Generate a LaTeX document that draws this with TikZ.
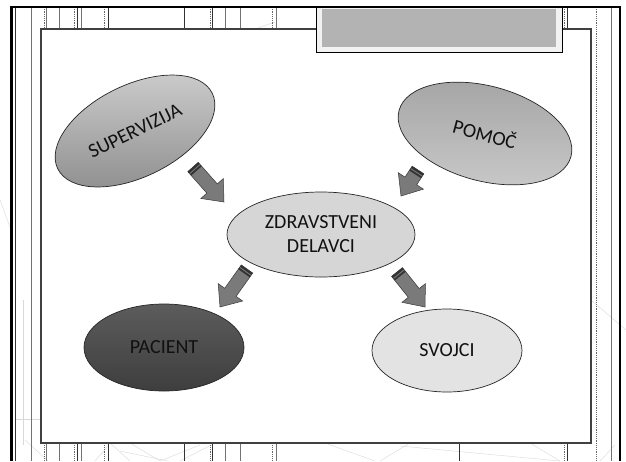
\documentclass[tikz,border=0pt]{standalone}
\usepackage{fontspec}
\setmainfont{Carlito}
\usetikzlibrary{shapes.geometric,calc}
\definecolor{framegray}{HTML}{404040}
\definecolor{boxgray}{HTML}{B3B3B3}
\definecolor{boxrim}{HTML}{F2F2F2}
\definecolor{arrfill}{HTML}{7A7A7A}
\definecolor{arrline}{HTML}{3A3A3A}
\definecolor{txt}{HTML}{111111}
\definecolor{suptop}{HTML}{CDCDCD}
\definecolor{supbot}{HTML}{8E8E8E}
\definecolor{pomtop}{HTML}{A4A4A4}
\definecolor{pombot}{HTML}{C6C6C6}
\definecolor{pactop}{HTML}{5C5C5C}
\definecolor{pacbot}{HTML}{3E3E3E}
\tikzset{
  vsolid/.style={draw=black!80, line width=0.7pt},
  vthin/.style={draw=black!55, line width=0.5pt},
  vdash/.style={draw=black!60, line width=0.6pt, dash pattern=on 1.2pt off 1pt},
  faint/.style={draw=black!15, line width=0.4pt},
  bubble/.style={ellipse, draw=black!85, line width=0.7pt, inner sep=0pt, text=txt,
     font=\fontsize{20}{24}\selectfont, align=center},
  arrowbody/.style={fill=arrfill, draw=arrline, line width=0.5pt, line join=miter},
  stripe/.style={fill=black!80},
}
\newcommand{\blockarrow}[1]{%
  \coordinate (#1h) at ($(#1t)!18pt!(#1s)$);
  \coordinate (#1p) at ($(#1s)!2.2pt!(#1t)$);
  \coordinate (#1q) at ($(#1s)!3.4pt!(#1t)$);
  \coordinate (#1r) at ($(#1s)!5.2pt!(#1t)$);
  \filldraw[arrowbody] ($(#1s)!7pt!90:(#1t)$) -- ($(#1h)!7pt!90:(#1t)$) -- ($(#1h)!15pt!90:(#1t)$) -- (#1t)
     -- ($(#1h)!15pt!-90:(#1t)$) -- ($(#1h)!7pt!-90:(#1t)$) -- ($(#1s)!7pt!-90:(#1t)$) -- cycle;
  \fill[stripe] ($(#1s)!7pt!90:(#1t)$) -- ($(#1p)!7pt!90:(#1t)$) -- ($(#1p)!7pt!-90:(#1t)$) -- ($(#1s)!7pt!-90:(#1t)$) -- cycle;
  \fill[stripe] ($(#1q)!7pt!90:(#1t)$) -- ($(#1r)!7pt!90:(#1t)$) -- ($(#1r)!7pt!-90:(#1t)$) -- ($(#1q)!7pt!-90:(#1t)$) -- cycle;
}
\begin{document}
\begin{tikzpicture}[x=1pt,y=-1pt]
\useasboundingbox[fill=white] (0,0) rectangle (626,461);
% faint background lines
\draw[faint] (23,300) -- (23,445);
\draw[faint] (15,419) -- (41,419);
\draw[faint] (25,440) -- (48,461);
\draw[faint] (110,443) -- (130,461);
\draw[faint] (95,461) -- (108,446);
\draw[faint] (120,451) -- (168,461);
\draw[faint] (160,461) -- (200,445);
\draw[faint] (130,443) -- (160,461);
\draw[faint] (180,461) -- (215,443);
\draw[faint] (325,443) -- (375,461);
\draw[faint] (380,461) -- (410,443);
\draw[faint] (400,446) -- (560,461);
\draw[faint] (530,443) -- (560,461);
\draw[faint] (600,461) -- (615,445);
\draw[faint] (591,300) -- (626,330);
\draw[faint] (0,200) -- (11,230);
\draw[faint] (258,28) -- (275,22);
% vertical background lines
\draw[vsolid] (15,7) -- (15,461);
\draw[vthin] (31,7) -- (31,461);
\draw[vdash] (44,7) -- (44,461);
\draw[vthin] (46,7) -- (46,461);
\draw[vthin] (59,7) -- (59,461);
\draw[vdash] (74,7) -- (74,461);
\draw[vsolid] (77,7) -- (77,461);
\draw[vthin] (81,7) -- (81,461);
\draw[vdash] (104,7) -- (104,461);
\draw[vsolid] (108,7) -- (108,461);
\draw[vsolid] (184,7) -- (184,461);
\draw[vdash] (210,7) -- (210,461);
\draw[vsolid] (212,7) -- (212,461);
\draw[vthin] (225,7) -- (225,461);
\draw[vthin] (240,7) -- (240,461);
\draw[vdash] (272,7) -- (272,461);
\draw[vthin] (276,7) -- (276,461);
\draw[vsolid] (459,7) -- (459,461);
\draw[vdash] (564,7) -- (564,461);
\draw[vsolid] (567,7) -- (567,461);
\draw[vdash] (596,7) -- (596,461);
\draw[vthin] (611,7) -- (611,461);
% outer frame
\draw[black, line width=2.2pt] (11.5,461) -- (11.5,7) -- (620,7) -- (620,461);
% inner slide rectangle
\filldraw[fill=white, draw=framegray, line width=1.2pt] (41,29) rectangle (591,443);
% title box
\filldraw[fill=boxrim, draw=black, line width=0.9pt] (316,7) rectangle (562,52);
\fill[boxgray] (322,9) rectangle (556,47);
\draw[black, line width=2.2pt] (300,7) -- (620,7);
% bubbles
\node[bubble, minimum width=172, minimum height=92, rotate=26,
      top color=suptop, bottom color=supbot] (sup) at (135,131) {SUPERVIZIJA};
\node[bubble, minimum width=178, minimum height=95, rotate=-15,
      top color=pomtop, bottom color=pombot] (pom) at (485,133.5) {POMOČ};
\node[bubble, minimum width=188, minimum height=85, fill=black!16] (zd) at (321,234.5) {ZDRAVSTVENI\\DELAVCI};
\node[bubble, minimum width=160, minimum height=87, top color=pactop, bottom color=pacbot] (pac) at (164,347.5) {PACIENT};
\node[bubble, minimum width=150, minimum height=83, fill=black!11] (svo) at (447,350.5) {SVOJCI};
% block arrows
\coordinate (a1s) at (193,167); \coordinate (a1t) at (224,202);
\coordinate (a2s) at (418,170); \coordinate (a2t) at (401,196);
\coordinate (a3s) at (247,269); \coordinate (a3t) at (220,307);
\coordinate (a4s) at (397,272); \coordinate (a4t) at (425,307);
\blockarrow{a1}
\blockarrow{a2}
\blockarrow{a3}
\blockarrow{a4}
\end{tikzpicture}
\end{document}
